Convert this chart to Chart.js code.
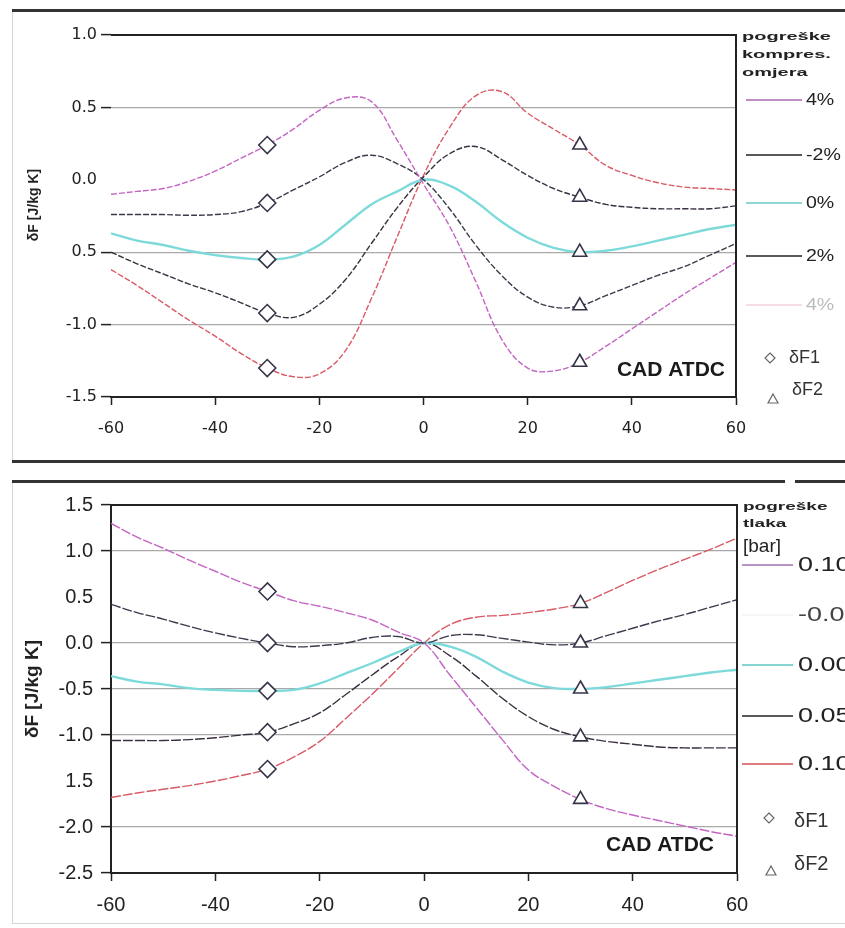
<!DOCTYPE html>
<html>
<head>
<meta charset="utf-8">
<script src="https://cdn.jsdelivr.net/npm/chart.js@4.4.1/dist/chart.umd.min.js"></script>
<style>
  body { margin: 0; background: #fff; }
  #page { position: relative; width: 845px; height: 928px; overflow: hidden; background: #fff; }
  canvas { position: absolute; left: 0; }
  #c1 { top: 0; }
  #c2 { top: 480px; }
  .rule { position: absolute; background: #333; }
</style>
</head>
<body>
<div id="page">
  <canvas id="c1" width="845" height="460"></canvas>
  <canvas id="c2" width="845" height="448"></canvas>
  <!-- crte oko dijagrama (sken) -->
  <div class="rule" style="left:12px;top:9px;width:833px;height:3px"></div>
  <div class="rule" style="left:12px;top:12px;width:1px;height:448px;background:#d6d6d6"></div>
  <div class="rule" style="left:12px;top:460px;width:833px;height:3px"></div>
  <div class="rule" style="left:12px;top:480px;width:773px;height:3px"></div>
  <div class="rule" style="left:795px;top:480px;width:50px;height:3px"></div>
  <div class="rule" style="left:12px;top:483px;width:1px;height:440px;background:#d6d6d6"></div>
  <div class="rule" style="left:12px;top:923px;width:833px;height:1px;background:#d6d6d6"></div>
</div>
<script>
// kut koljenastog vratila (CAD ATDC)
const xs = [-60, -55, -50, -45, -40, -35, -30, -25, -20, -15, -10, -5, 0, 5, 10, 15, 20, 25, 30, 35, 40, 45, 50, 55, 60];
const xTickLabels = ['-60', '-40', '-20', '0', '20', '40', '60'];

// gornji dijagram - pogreške kompresijskog omjera
const topLabels = ['4%', '-2%', '0%', '2%', '4%'];
const topTickLabels = ['1.0', '0.5', '0.0', '0.5', '-1.0', '-1.5'];
const topMinus4 = [-0.10, -0.08, -0.06, -0.01, 0.06, 0.15, 0.24, 0.35, 0.48, 0.565, 0.54, 0.27, -0.03, -0.32, -0.70, -1.10, -1.30, -1.32, -1.26, -1.15, -1.03, -0.91, -0.79, -0.68, -0.57];
const topMinus2 = [-0.24, -0.24, -0.24, -0.245, -0.24, -0.22, -0.16, -0.07, 0.02, 0.12, 0.17, 0.11, 0.0, -0.20, -0.45, -0.66, -0.81, -0.88, -0.87, -0.80, -0.73, -0.66, -0.60, -0.52, -0.44];
const topZero = [-0.37, -0.42, -0.45, -0.49, -0.52, -0.54, -0.55, -0.53, -0.45, -0.31, -0.17, -0.08, 0.0, -0.04, -0.15, -0.29, -0.40, -0.47, -0.50, -0.49, -0.46, -0.42, -0.38, -0.34, -0.31];
const topPlus2 = [-0.50, -0.58, -0.65, -0.72, -0.78, -0.85, -0.92, -0.95, -0.86, -0.69, -0.44, -0.19, 0.02, 0.18, 0.23, 0.14, 0.03, -0.06, -0.12, -0.17, -0.19, -0.20, -0.20, -0.20, -0.18];
const topPlus4 = [-0.62, -0.73, -0.85, -0.97, -1.08, -1.20, -1.30, -1.36, -1.34, -1.18, -0.82, -0.39, 0.03, 0.36, 0.58, 0.61, 0.46, 0.35, 0.24, 0.10, 0.03, -0.02, -0.05, -0.06, -0.07];

// donji dijagram - pogreške tlaka [bar]
const botLabels = ['0.10', '-0.05', '0.00', '0.05', '0.10'];
const botTickLabels = ['1.5', '1.0', '0.5', '0.0', '-0.5', '-1.0', '1.5', '-2.0', '-2.5'];
const botMinus10 = [1.30, 1.15, 1.03, 0.90, 0.78, 0.66, 0.56, 0.46, 0.40, 0.33, 0.25, 0.12, 0.0, -0.35, -0.70, -1.05, -1.38, -1.56, -1.70, -1.80, -1.87, -1.93, -1.99, -2.05, -2.10];
const botMinus05 = [0.42, 0.33, 0.26, 0.18, 0.11, 0.05, 0.0, -0.04, -0.03, 0.0, 0.06, 0.07, 0.0, 0.08, 0.09, 0.05, 0.01, -0.02, 0.0, 0.08, 0.16, 0.24, 0.31, 0.39, 0.47];
const botZero = [-0.36, -0.42, -0.45, -0.49, -0.51, -0.52, -0.52, -0.51, -0.44, -0.33, -0.22, -0.10, 0.0, -0.04, -0.15, -0.31, -0.43, -0.49, -0.50, -0.48, -0.44, -0.40, -0.36, -0.32, -0.29];
const botPlus05 = [-1.06, -1.06, -1.06, -1.05, -1.03, -1.00, -0.97, -0.88, -0.76, -0.56, -0.35, -0.15, 0.0, -0.14, -0.36, -0.60, -0.80, -0.94, -1.02, -1.07, -1.10, -1.13, -1.14, -1.14, -1.14];
const botPlus10 = [-1.68, -1.63, -1.59, -1.55, -1.50, -1.44, -1.37, -1.24, -1.07, -0.82, -0.56, -0.28, 0.0, 0.20, 0.28, 0.30, 0.33, 0.37, 0.43, 0.55, 0.68, 0.80, 0.91, 1.02, 1.14];

// tocke deltaF1 (x = -30) i deltaF2 (x = 30)
const markF1 = -30;
const markF2 = 30;

const lineColors = ['#c464c4', '#3a3a4c', '#7edada', '#3a3040', '#d85a66'];
const lineWidths = [1.4, 1.4, 2.4, 1.4, 1.4];

function buildDatasets(series, dash) {
    const sets = series.map((s, i) => ({
        data: xs.map((x, j) => ({ x: x, y: s[j] })),
        borderColor: lineColors[i],
        borderWidth: lineWidths[i],
        borderDash: i === 2 ? [] : dash,
        pointRadius: 0,
        tension: 0.4,
        fill: false,
        order: 2
    }));
    const iF1 = xs.indexOf(markF1);
    const iF2 = xs.indexOf(markF2);
    sets.push({
        type: 'scatter',
        data: series.map(s => ({ x: markF1, y: s[iF1] })),
        pointStyle: 'rectRot',
        pointRadius: 8.5,
        pointBackgroundColor: '#fff',
        pointBorderColor: '#343448',
        pointBorderWidth: 1.6,
        order: 0
    });
    sets.push({
        type: 'scatter',
        data: series.map(s => ({ x: markF2, y: s[iF2] })),
        pointStyle: 'triangle',
        pointRadius: 8,
        pointBackgroundColor: '#fff',
        pointBorderColor: '#343448',
        pointBorderWidth: 1.6,
        order: 0
    });
    return sets;
}

// okvir, naslov osi, legenda i natpis
function decor(cfg) {
    return {
        id: 'decor',
        afterDraw(chart) {
            const ctx = chart.ctx;
            const a = chart.chartArea;
            ctx.save();
            ctx.strokeStyle = '#222';
            ctx.lineWidth = 2;
            ctx.beginPath();
            ctx.moveTo(a.left, a.top);
            ctx.lineTo(a.right, a.top);
            ctx.lineTo(a.right, a.bottom);
            ctx.stroke();

            // naslov y osi
            ctx.save();
            ctx.fillStyle = '#222';
            ctx.font = cfg.titleFont;
            ctx.textAlign = 'center';
            ctx.textBaseline = 'middle';
            ctx.translate(cfg.titleX, (a.top + a.bottom) / 2 + cfg.titleDy);
            ctx.rotate(-Math.PI / 2);
            ctx.fillText('δF [J/kg K]', 0, 0);
            ctx.restore();

            // CAD ATDC
            ctx.fillStyle = '#1a1a1a';
            ctx.font = 'bold 21px "Liberation Sans", Arial, sans-serif';
            ctx.textAlign = 'right';
            ctx.textBaseline = 'middle';
            ctx.fillText('CAD ATDC', a.right + cfg.cadDx, a.bottom + cfg.cadDy);

            // naslov legende
            ctx.textAlign = 'left';
            cfg.legTitle.forEach((t, i) => {
                ctx.save();
                ctx.translate(a.right + 6, a.top + cfg.legTitleY[i]);
                ctx.scale(1, t.sy);
                ctx.font = t.font;
                ctx.fillStyle = '#222';
                ctx.fillText(t.text, 0, 0);
                ctx.restore();
            });

            // stavke legende
            cfg.labels.forEach((lab, i) => {
                const y = a.top + cfg.rowY[i];
                ctx.strokeStyle = cfg.legColors[i];
                ctx.lineWidth = 1.6;
                ctx.beginPath();
                ctx.moveTo(a.right + cfg.lx0, y);
                ctx.lineTo(a.right + cfg.lx1, y);
                ctx.stroke();
                ctx.save();
                ctx.translate(a.right + cfg.tx, y);
                ctx.scale(cfg.sx, 1);
                ctx.font = cfg.legFont;
                ctx.fillStyle = cfg.legTextColors[i];
                ctx.fillText(lab, 0, 0);
                ctx.restore();
            });

            // oznake deltaF1 / deltaF2
            ctx.strokeStyle = '#666';
            ctx.lineWidth = 1.2;
            const d = cfg.f1;
            ctx.beginPath();
            ctx.moveTo(a.right + d.mx, a.top + d.my - 5);
            ctx.lineTo(a.right + d.mx + 5, a.top + d.my);
            ctx.lineTo(a.right + d.mx, a.top + d.my + 5);
            ctx.lineTo(a.right + d.mx - 5, a.top + d.my);
            ctx.closePath();
            ctx.stroke();
            const t = cfg.f2;
            ctx.beginPath();
            ctx.moveTo(a.right + t.mx, a.top + t.my - 5);
            ctx.lineTo(a.right + t.mx + 5, a.top + t.my + 4);
            ctx.lineTo(a.right + t.mx - 5, a.top + t.my + 4);
            ctx.closePath();
            ctx.stroke();
            ctx.fillStyle = '#333';
            ctx.font = cfg.fFont;
            ctx.fillText('δF1', a.right + d.tx, a.top + d.ty);
            ctx.fillText('δF2', a.right + t.tx, a.top + t.ty);
            ctx.restore();
        }
    };
}

function makeChart(id, series, o) {
    const hidden = o.hiddenGrid;
    const isHidden = v => hidden.some(h => Math.abs(h - v) < 1e-6);
    return new Chart(document.getElementById(id), {
        type: 'line',
        data: { datasets: buildDatasets(series, o.dash) },
        options: {
            responsive: false,
            animation: false,
            events: [],
            layout: { padding: o.padding },
            plugins: { legend: { display: false }, tooltip: { enabled: false } },
            scales: {
                x: {
                    type: 'linear',
                    min: -60,
                    max: 60,
                    afterFit: s => { s.height = 45; },
                    border: { display: true, color: '#222', width: 2 },
                    grid: { drawOnChartArea: false, drawTicks: true, tickLength: 8, tickColor: '#222', tickWidth: 1.5 },
                    ticks: {
                        stepSize: 20,
                        padding: o.xPad,
                        color: '#222',
                        font: o.tickFont,
                        maxRotation: 0,
                        callback: v => xTickLabels[Math.round((v + 60) / 20)]
                    }
                },
                y: {
                    min: o.yMin,
                    max: o.yMax,
                    afterFit: s => { s.width = 111; },
                    border: { display: o.leftBorder, color: '#222', width: 2 },
                    grid: {
                        color: c => isHidden(c.tick.value) ? 'rgba(0,0,0,0)' : '#a9a9a9',
                        tickColor: c => isHidden(c.tick.value) ? 'rgba(0,0,0,0)' : '#222',
                        lineWidth: 1.2,
                        tickWidth: 1.5,
                        tickLength: 10,
                        drawTicks: true
                    },
                    ticks: {
                        stepSize: 0.5,
                        padding: o.yPad,
                        color: '#222',
                        font: o.tickFont,
                        callback: v => o.tickLabels[Math.round((o.yMax - v) / 0.5)]
                    }
                }
            }
        },
        plugins: [decor(o.decor)]
    });
}

makeChart('c1', [topMinus4, topMinus2, topZero, topPlus2, topPlus4], {
    yMin: -1.5, yMax: 1.0,
    tickLabels: topTickLabels,
    hiddenGrid: [0],
    padding: { left: 0, right: 109, top: 35, bottom: 18 },
    tickFont: { family: '"DejaVu Sans", sans-serif', size: 16 },
    xPad: 14, yPad: 4,
    leftBorder: false,
    dash: [6, 2],
    decor: {
        titleFont: 'bold 14px "Liberation Sans", Arial, sans-serif',
        titleX: 34, titleDy: -11,
        cadDx: -11, cadDy: -27,
        legTitle: [
            { text: 'pogreške', font: 'bold 20px "Liberation Sans", Arial, sans-serif', sy: 0.55 },
            { text: 'kompres.', font: 'bold 20px "Liberation Sans", Arial, sans-serif', sy: 0.55 },
            { text: 'omjera', font: 'bold 20px "Liberation Sans", Arial, sans-serif', sy: 0.55 }
        ],
        legTitleY: [2, 20, 38],
        labels: topLabels,
        rowY: [65, 120, 168, 221, 270],
        legColors: ['#a868b0', '#222', '#6cc8c8', '#222', '#f4d2da'],
        legTextColors: ['#222', '#222', '#222', '#222', '#bbb'],
        lx0: 10, lx1: 66, tx: 70, sx: 1.15,
        legFont: '17px "Liberation Sans", Arial, sans-serif',
        f1: { mx: 34, my: 323, tx: 53, ty: 323 },
        f2: { mx: 37, my: 364, tx: 56, ty: 355 },
        fFont: '18px "Liberation Sans", Arial, sans-serif'
    }
});

makeChart('c2', [botMinus10, botMinus05, botZero, botPlus05, botPlus10], {
    yMin: -2.5, yMax: 1.5,
    tickLabels: botTickLabels,
    hiddenGrid: [0.5, -1.5],
    padding: { left: 0, right: 108, top: 25, bottom: 10 },
    tickFont: { family: '"Liberation Sans", Arial, sans-serif', size: 20 },
    xPad: 12, yPad: 8,
    leftBorder: true,
    dash: [10, 2],
    decor: {
        titleFont: 'bold 19px "Liberation Sans", Arial, sans-serif',
        titleX: 33, titleDy: 0,
        cadDx: -23, cadDy: -28,
        legTitle: [
            { text: 'pogreške', font: 'bold 19px "Liberation Sans", Arial, sans-serif', sy: 0.58 },
            { text: 'tlaka', font: 'bold 19px "Liberation Sans", Arial, sans-serif', sy: 0.58 },
            { text: '[bar]', font: '19px "Liberation Sans", Arial, sans-serif', sy: 1 }
        ],
        legTitleY: [2, 19, 42],
        labels: botLabels,
        rowY: [60, 110, 160, 211, 259],
        legColors: ['#a070b0', '#f2f2f2', '#5cc8c0', '#222', '#d05050'],
        legTextColors: ['#222', '#444', '#222', '#222', '#222'],
        lx0: 5, lx1: 56, tx: 61, sx: 1.35,
        legFont: '20px "Liberation Sans", Arial, sans-serif',
        f1: { mx: 32, my: 313, tx: 57, ty: 316 },
        f2: { mx: 34, my: 366, tx: 57, ty: 359 },
        fFont: '20px "Liberation Sans", Arial, sans-serif'
    }
});
</script>
</body>
</html>
